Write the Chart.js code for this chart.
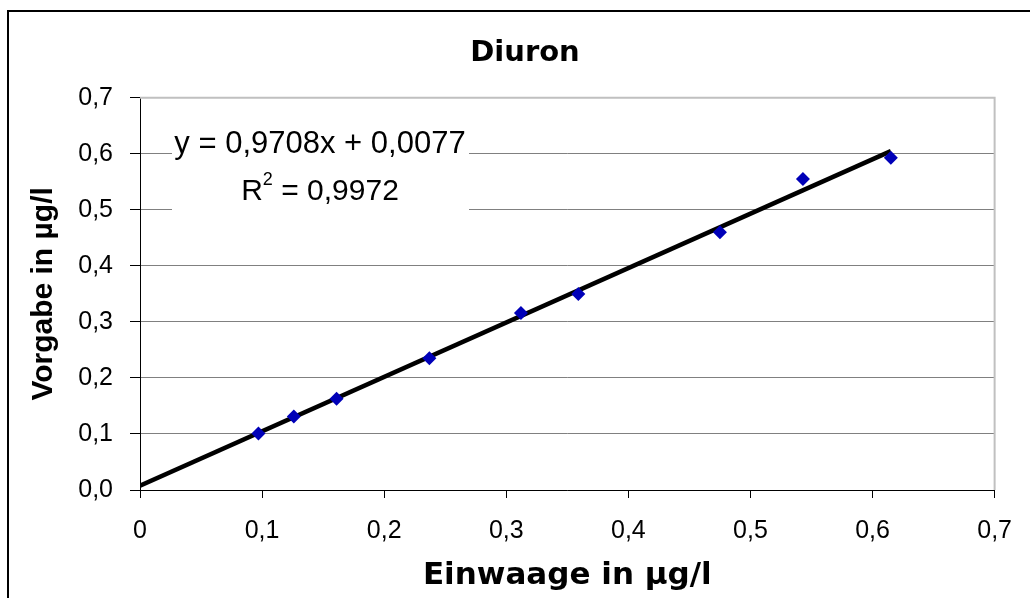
<!DOCTYPE html>
<html>
<head>
<meta charset="utf-8">
<script src="https://cdn.jsdelivr.net/npm/chart.js@4.4.1/dist/chart.umd.min.js"></script>
<style>
  html, body { margin: 0; padding: 0; background: #fff; }
</style>
</head>
<body>
<canvas id="chart" width="1030" height="598"></canvas>
<script>
// Messwerte (Einwaage vs. Vorgabe)
const einwaage = [0.097, 0.126, 0.161, 0.237, 0.312, 0.359, 0.475, 0.543, 0.615];
const vorgabe  = [0.101, 0.131, 0.163, 0.235, 0.316, 0.350, 0.460, 0.555, 0.593];

// lineare Regression aus Excel
const fitCoef = [0.9708, 0.0077]; // Steigung, Achsenabschnitt
const fitR2 = [0.9972];

const xTickLabels = ['0', '0,1', '0,2', '0,3', '0,4', '0,5', '0,6', '0,7'];
const yTickLabels = ['0,0', '0,1', '0,2', '0,3', '0,4', '0,5', '0,6', '0,7'];

const FONT = "'Liberation Sans', Arial, sans-serif";
const WIDE = "'DejaVu Sans', 'Liberation Sans', sans-serif";
Chart.defaults.font.family = FONT;
Chart.defaults.color = '#000';

const fmt = (v, d) => v.toFixed(d).replace('.', ',');

const xMax = Math.max(...einwaage);
const trend = [0, xMax].map(x => ({ x, y: fitCoef[0] * x + fitCoef[1] }));

// Rahmen um das Diagramm + grauer Rahmen der Zeichenfläche
const framePlugin = {
    id: 'frame',
    beforeDraw(chart) {
        const c = chart.ctx;
        c.save();
        c.fillStyle = '#fff';
        c.fillRect(0, 0, chart.width, chart.height);
        c.strokeStyle = '#000';
        c.lineWidth = 2;
        c.beginPath();
        c.moveTo(8, chart.height);
        c.lineTo(8, 11);
        c.lineTo(chart.width, 11);
        c.stroke();
        c.restore();
    },
    beforeDatasetsDraw(chart) {
        const c = chart.ctx, a = chart.chartArea;
        c.save();
        c.strokeStyle = '#c0c0c0';
        c.lineWidth = 2;
        c.beginPath();
        c.moveTo(a.left, a.top);
        c.lineTo(a.right, a.top);
        c.lineTo(a.right, a.bottom);
        c.stroke();

        // Formel-Kasten
        c.fillStyle = '#fff';
        c.fillRect(172, 126, 297, 94);
        c.fillStyle = '#000';
        c.textBaseline = 'middle';
        c.textAlign = 'center';
        c.font = '31px ' + FONT;
        c.fillText('y = ' + fmt(fitCoef[0], 4) + 'x + ' + fmt(fitCoef[1], 4), 320, 144);

        const rest = ' = ' + fmt(fitR2[0], 4);
        c.font = '30px ' + FONT;
        const wR = c.measureText('R').width, wRest = c.measureText(rest).width;
        c.font = '18px ' + FONT;
        const wSup = c.measureText('2').width;
        let x = 320 - (wR + wSup + wRest) / 2;
        c.textAlign = 'left';
        c.font = '30px ' + FONT;
        c.fillText('R', x, 192);
        c.font = '18px ' + FONT;
        c.fillText('2', x + wR, 180);
        c.font = '30px ' + FONT;
        c.fillText(rest, x + wR + wSup, 192);
        c.restore();
    }
};

new Chart(document.getElementById('chart'), {
    type: 'scatter',
    data: {
        datasets: [
            {
                label: 'Trend',
                type: 'line',
                data: trend,
                borderColor: '#000',
                borderWidth: 4.5,
                pointRadius: 0,
                fill: false,
                order: 2
            },
            {
                label: 'Diuron',
                data: einwaage.map((x, i) => ({ x, y: vorgabe[i] })),
                pointStyle: 'rectRot',
                pointRadius: 7,
                backgroundColor: '#0000b8',
                borderColor: '#0000b8',
                borderWidth: 0,
                order: 1
            }
        ]
    },
    options: {
        responsive: false,
        animation: false,
        // links 55 damit der Titel mittig über dem ganzen Rahmen sitzt
        layout: { padding: { left: 55, right: 35, top: 0, bottom: 0 } },
        plugins: {
            legend: { display: false },
            tooltip: { enabled: false },
            title: {
                display: true,
                text: 'Diuron',
                color: '#000',
                font: { family: WIDE, size: 29, weight: 'bold' },
                padding: { top: 36, bottom: 27 }
            }
        },
        scales: {
            x: {
                type: 'linear',
                min: 0,
                max: 0.7,
                afterFit: s => { s.height = 108; },
                ticks: {
                    stepSize: 0.1,
                    color: '#000',
                    font: { size: 25 },
                    padding: 18,
                    maxRotation: 0,
                    callback: (v, i) => xTickLabels[i]
                },
                grid: { drawOnChartArea: false, drawTicks: true, tickLength: 8, color: '#000' },
                border: { color: '#000', width: 1 },
                title: {
                    display: true,
                    text: 'Einwaage in µg/l',
                    color: '#000',
                    font: { family: WIDE, size: 31, weight: 'bold' },
                    padding: { top: 0, bottom: 3 }
                }
            },
            y: {
                type: 'linear',
                min: 0,
                max: 0.7,
                afterFit: s => { s.width = 85; },
                ticks: {
                    stepSize: 0.1,
                    color: '#000',
                    font: { size: 25 },
                    padding: 17,
                    callback: (v, i) => yTickLabels[i]
                },
                grid: {
                    color: ctx => ctx.index === yTickLabels.length - 1 ? '#c0c0c0' : '#808080',
                    tickColor: '#000',
                    tickLength: 10
                },
                border: { color: '#000', width: 1 },
                title: {
                    display: true,
                    text: 'Vorgabe in µg/l',
                    color: '#000',
                    font: { size: 30, weight: 'bold' },
                    padding: { top: -29, bottom: 0 }
                }
            }
        }
    },
    plugins: [framePlugin]
});
</script>
</body>
</html>
